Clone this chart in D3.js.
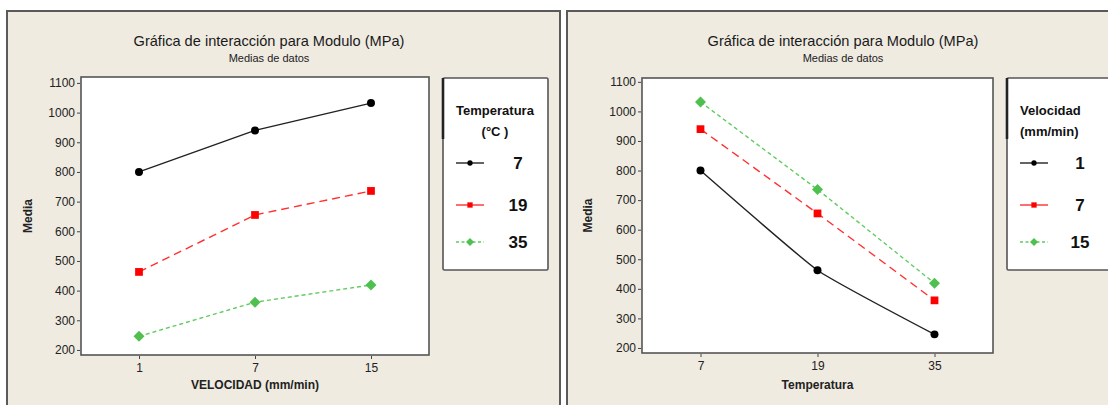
<!DOCTYPE html>
<html>
<head>
<meta charset="utf-8">
<script src="https://cdn.jsdelivr.net/npm/d3@7"></script>
<style>
  body { margin: 0; background: #fff; }
  svg { display: block; }
  text { font-family: "Liberation Sans", Arial, sans-serif; }
</style>
</head>
<body>
<svg id="chart" width="1108" height="405"></svg>
<script>
// categories
const velocidad = ["1", "7", "15"];
const temperatura = ["7", "19", "35"];

// mean modulus (MPa) for each temperature, across velocidad 1, 7, 15
const mediaT7 = [800, 940, 1032];
const mediaT19 = [463, 655, 736];
const mediaT35 = [246, 361, 419];

const yTicks = [200, 300, 400, 500, 600, 700, 800, 900, 1000, 1100];

const titleText = "Gráfica de interacción para Modulo (MPa)";
const subtitleText = "Medias de datos";

let svg = d3.select("#chart");

// diamond = square turned 45 degrees
let symbolDiamondSq = {
    draw: function (context, size) {
        let r = Math.sqrt(size / 2);
        context.moveTo(0, -r);
        context.lineTo(r, 0);
        context.lineTo(0, r);
        context.lineTo(-r, 0);
        context.closePath();
    }
};

// series styles (black solid / red dashed / green dotted)
let styles = [
    {line: "#222", mark: "#000", dash: null, shape: d3.symbolCircle, size: 50, lsize: 22},
    {line: "#ff3030", mark: "#f00", dash: "8,5", shape: d3.symbolSquare, size: 60, lsize: 28},
    {line: "#5fcc5f", mark: "#4fc04f", dash: "4,3", shape: symbolDiamondSq, size: 60, lsize: 32}
];

function drawPanel(p) {
    let g = svg.append("g");

    // panel background + border
    g.append("rect")
        .attr("x", p.px).attr("y", 11)
        .attr("width", p.pw).attr("height", 430)
        .attr("fill", "#efebe1")
        .attr("stroke", "#5a5a5a")
        .attr("stroke-width", 2);

    // titles
    g.append("text")
        .attr("x", p.titleX).attr("y", 46)
        .attr("text-anchor", "middle")
        .style("font-size", "14.6px")
        .attr("fill", "#1a1a1a")
        .text(titleText);
    g.append("text")
        .attr("x", p.titleX).attr("y", 62)
        .attr("text-anchor", "middle")
        .style("font-size", "11px")
        .attr("fill", "#222")
        .text(subtitleText);

    // scales
    let x = d3.scalePoint().domain(p.cats).range([p.x0, p.x1]).padding(0.5);
    let y = d3.scaleLinear().domain(p.yDomain).range([p.y1, p.y0]);

    // plot box
    g.append("rect")
        .attr("x", p.x0).attr("y", p.y0)
        .attr("width", p.x1 - p.x0).attr("height", p.y1 - p.y0)
        .attr("fill", "#fff")
        .attr("stroke", "#555")
        .attr("stroke-width", 1.6);

    // y axis
    let yAxis = g.append("g")
        .attr("transform", "translate(" + (p.x0 - 1) + ",0)")
        .call(d3.axisLeft(y).tickValues(yTicks).tickFormat(d3.format("d")).tickSize(3).tickPadding(2));
    yAxis.select(".domain").remove();
    yAxis.selectAll("line").attr("stroke", "#444");
    yAxis.selectAll("text").style("font-size", "12px").attr("fill", "#222")
        .style("font-family", "'Liberation Sans Narrow', 'Liberation Sans', Arial, sans-serif");

    // x axis
    let xAxis = g.append("g")
        .attr("transform", "translate(0," + (p.y1 + 1) + ")")
        .call(d3.axisBottom(x).tickSize(3).tickPadding(4));
    xAxis.select(".domain").remove();
    xAxis.selectAll("line").attr("stroke", "#444");
    xAxis.selectAll("text").style("font-size", "12px").attr("fill", "#222")
        .style("font-family", "'Liberation Sans Narrow', 'Liberation Sans', Arial, sans-serif");

    // axis labels
    g.append("text")
        .attr("transform", "translate(" + (p.px + 25) + "," + ((p.y0 + p.y1) / 2) + ") rotate(-90)")
        .attr("text-anchor", "middle")
        .style("font-size", "12px")
        .style("font-weight", "bold")
        .attr("fill", "#222")
        .text("Media");
    g.append("text")
        .attr("x", (p.x0 + p.x1) / 2).attr("y", 389)
        .attr("text-anchor", "middle")
        .style("font-size", "12px")
        .style("font-weight", "bold")
        .attr("fill", "#222")
        .text(p.xLabel);

    // lines + markers
    p.series.forEach(function (vals, i) {
        let st = styles[i];
        let line = d3.line()
            .x(function (d, j) { return x(p.cats[j]); })
            .y(function (d) { return y(d); })
            .curve(p.curves[i]);
        g.append("path")
            .datum(vals)
            .attr("d", line)
            .attr("fill", "none")
            .attr("stroke", st.line)
            .attr("stroke-width", 1.4)
            .attr("stroke-dasharray", st.dash);
        g.selectAll(".m" + i)
            .data(vals)
            .enter().append("path")
            .attr("transform", function (d, j) { return "translate(" + x(p.cats[j]) + "," + y(d) + ")"; })
            .attr("d", d3.symbol().type(st.shape).size(st.size))
            .attr("fill", st.mark);
    });

    // legend box
    g.append("rect")
        .attr("x", p.lx).attr("y", 78)
        .attr("width", p.lw).attr("height", 192)
        .attr("rx", 1.5)
        .attr("fill", "#fff")
        .attr("stroke", "#555")
        .attr("stroke-width", 1.6);
    g.append("line")
        .attr("x1", p.lx).attr("x2", p.lx)
        .attr("y1", 78).attr("y2", 139)
        .attr("stroke", "#222")
        .attr("stroke-width", 2.6);

    p.legendTitle.forEach(function (t, k) {
        g.append("text")
            .attr("x", p.ltx).attr("y", 115 + k * 21)
            .attr("text-anchor", p.ltAnchor)
            .style("font-size", "13px")
            .style("font-weight", "bold")
            .attr("fill", "#111")
            .text(t);
    });

    let legendY = [163, 205, 242];
    p.names.forEach(function (name, i) {
        let st = styles[i];
        let ly = legendY[i];
        g.append("line")
            .attr("x1", p.lx + 13).attr("x2", p.lx + 41)
            .attr("y1", ly).attr("y2", ly)
            .attr("stroke", st.line)
            .attr("stroke-width", 1.4)
            .attr("stroke-dasharray", i === 2 ? "3,2.5" : null);
        g.append("path")
            .attr("transform", "translate(" + (p.lx + 27) + "," + ly + ")")
            .attr("d", d3.symbol().type(st.shape).size(st.lsize))
            .attr("fill", st.mark);
        g.append("text")
            .attr("x", p.lx + p.numX).attr("y", ly + 6)
            .attr("text-anchor", "middle")
            .style("font-size", "17px")
            .style("font-weight", "bold")
            .attr("fill", "#111")
            .text(name);
    });
}

// left: x = velocidad, one line per temperatura
drawPanel({
    px: 7, pw: 553, titleX: 269,
    x0: 81, x1: 429, y0: 77, y1: 355,
    yDomain: [183, 1120],
    cats: velocidad,
    series: [mediaT7, mediaT19, mediaT35],
    names: temperatura,
    curves: [d3.curveLinear, d3.curveLinear, d3.curveLinear],
    xLabel: "VELOCIDAD (mm/min)",
    lx: 443, lw: 105, ltx: 495, ltAnchor: "middle",
    legendTitle: ["Temperatura", "(°C )"],
    numX: 75
});

// right: x = temperatura, one line per velocidad
drawPanel({
    px: 567, pw: 600, titleX: 843,
    x0: 642, x1: 993, y0: 78, y1: 353,
    yDomain: [183, 1113],
    cats: temperatura,
    series: velocidad.map(function (v, j) { return [mediaT7[j], mediaT19[j], mediaT35[j]]; }),
    names: velocidad,
    curves: [d3.curveCardinal.tension(0.6), d3.curveLinear, d3.curveLinear],
    xLabel: "Temperatura",
    lx: 1007, lw: 120, ltx: 1020, ltAnchor: "start",
    legendTitle: ["Velocidad", "(mm/min)"],
    numX: 73
});
</script>
</body>
</html>
